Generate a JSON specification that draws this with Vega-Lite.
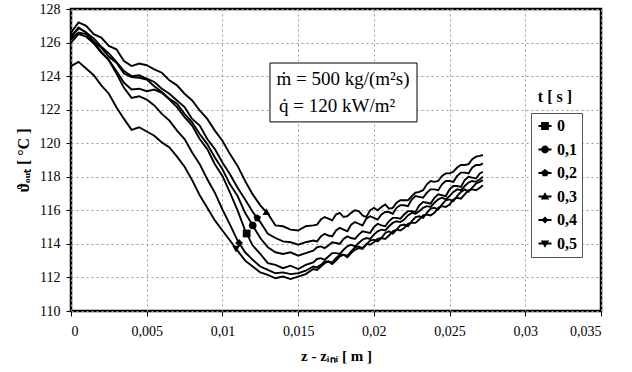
{
  "$schema": "https://vega.github.io/schema/vega-lite/v6.json",
  "width": 530,
  "height": 302,
  "autosize": {"type": "none"},
  "padding": {"left": 71, "top": 9, "right": 31, "bottom": 61},
  "background": "white",
  "config": {
    "view": {"stroke": "black", "strokeWidth": 2.5},
    "font": "Liberation Serif",
    "axis": {
      "labelFont": "Liberation Serif", "labelFontSize": 14, "labelColor": "black",
      "titleFont": "Liberation Serif", "titleFontSize": 15, "titleFontWeight": "bold", "titleColor": "black",
      "tickColor": "black", "tickSize": 5, "domain": false, "labelOverlap": false,
      "gridColor": "#9a9a9a", "gridDash": [2, 3], "gridWidth": 1
    }
  },
  "resolve": {"scale": {"shape": "independent"}, "legend": {"shape": "independent"}},
  "datasets": {
    "curves": [
      {"t":"0,3","x":0,"y":126.6},{"t":"0,3","x":0.0005,"y":127.2},{"t":"0,3","x":0.001,"y":127.0},{"t":"0,3","x":0.0015,"y":126.5},{"t":"0,3","x":0.002,"y":126.3},{"t":"0,3","x":0.0025,"y":125.8},{"t":"0,3","x":0.003,"y":125.6},{"t":"0,3","x":0.0035,"y":124.9},{"t":"0,3","x":0.004,"y":124.6},{"t":"0,3","x":0.0045,"y":124.75},{"t":"0,3","x":0.005,"y":124.65},{"t":"0,3","x":0.0055,"y":124.4},{"t":"0,3","x":0.006,"y":124.2},{"t":"0,3","x":0.0065,"y":123.75},{"t":"0,3","x":0.007,"y":123.45},{"t":"0,3","x":0.0075,"y":122.95},{"t":"0,3","x":0.008,"y":122.55},{"t":"0,3","x":0.0085,"y":121.95},{"t":"0,3","x":0.009,"y":121.45},{"t":"0,3","x":0.0095,"y":120.75},{"t":"0,3","x":0.01,"y":120.15},{"t":"0,3","x":0.0105,"y":119.35},{"t":"0,3","x":0.011,"y":118.65},{"t":"0,3","x":0.0115,"y":117.75},{"t":"0,3","x":0.012,"y":116.95},{"t":"0,3","x":0.0125,"y":116.3},{"t":"0,3","x":0.013,"y":115.8},{"t":"0,3","x":0.0135,"y":115.1},{"t":"0,3","x":0.014,"y":115.05},{"t":"0,3","x":0.0145,"y":114.85},{"t":"0,3","x":0.015,"y":114.8},{"t":"0,3","x":0.0155,"y":115.05},{"t":"0,3","x":0.016,"y":115.1},{"t":"0,3","x":0.0165,"y":115.45},{"t":"0,3","x":0.017,"y":115.5},{"t":"0,3","x":0.0175,"y":115.75},{"t":"0,3","x":0.018,"y":115.6},{"t":"0,3","x":0.0185,"y":115.85},{"t":"0,3","x":0.019,"y":115.95},{"t":"0,3","x":0.0195,"y":115.6},{"t":"0,3","x":0.02,"y":116.15},{"t":"0,3","x":0.0205,"y":116.2},{"t":"0,3","x":0.021,"y":116.1},{"t":"0,3","x":0.0215,"y":116.45},{"t":"0,3","x":0.022,"y":116.6},{"t":"0,3","x":0.0225,"y":116.85},{"t":"0,3","x":0.023,"y":117.1},{"t":"0,3","x":0.0235,"y":117.55},{"t":"0,3","x":0.024,"y":117.7},{"t":"0,3","x":0.0245,"y":118.05},{"t":"0,3","x":0.025,"y":118.2},{"t":"0,3","x":0.0255,"y":118.55},{"t":"0,3","x":0.026,"y":118.7},{"t":"0,3","x":0.0265,"y":119.05},{"t":"0,3","x":0.027,"y":119.25},{"t":"0,3","x":0.0272,"y":119.3},
      {"t":"0,3","x":0.01625,"y":115.15},{"t":"0,3","x":0.01675,"y":115.6},{"t":"0,3","x":0.01725,"y":115.4},{"t":"0,3","x":0.01775,"y":115.85},{"t":"0,3","x":0.01825,"y":115.65},{"t":"0,3","x":0.01875,"y":116.0},{"t":"0,3","x":0.01925,"y":115.7},{"t":"0,3","x":0.01975,"y":116.0},{"t":"0,3","x":0.02025,"y":116.0},{"t":"0,3","x":0.02075,"y":116.35},{"t":"0,3","x":0.02125,"y":116.15},{"t":"0,3","x":0.02175,"y":116.6},{"t":"0,3","x":0.02225,"y":116.6},{"t":"0,3","x":0.02275,"y":117.05},{"t":"0,3","x":0.02325,"y":117.2},{"t":"0,3","x":0.02375,"y":117.75},{"t":"0,3","x":0.02425,"y":117.75},{"t":"0,3","x":0.02475,"y":118.2},{"t":"0,3","x":0.02525,"y":118.3},{"t":"0,3","x":0.02575,"y":118.7},{"t":"0,3","x":0.02625,"y":118.75},{"t":"0,3","x":0.02675,"y":119.2},

      {"t":"0,2","x":0,"y":126.3},{"t":"0,2","x":0.0005,"y":126.85},{"t":"0,2","x":0.001,"y":126.6},{"t":"0,2","x":0.0015,"y":126.25},{"t":"0,2","x":0.002,"y":125.75},{"t":"0,2","x":0.0025,"y":125.35},{"t":"0,2","x":0.003,"y":124.85},{"t":"0,2","x":0.0035,"y":124.3},{"t":"0,2","x":0.004,"y":124.0},{"t":"0,2","x":0.0045,"y":124.05},{"t":"0,2","x":0.005,"y":123.85},{"t":"0,2","x":0.0055,"y":123.65},{"t":"0,2","x":0.006,"y":123.25},{"t":"0,2","x":0.0065,"y":122.95},{"t":"0,2","x":0.007,"y":122.55},{"t":"0,2","x":0.0075,"y":122.15},{"t":"0,2","x":0.008,"y":121.45},{"t":"0,2","x":0.0085,"y":121.05},{"t":"0,2","x":0.009,"y":120.25},{"t":"0,2","x":0.0095,"y":119.65},{"t":"0,2","x":0.01,"y":118.85},{"t":"0,2","x":0.0105,"y":118.15},{"t":"0,2","x":0.011,"y":117.35},{"t":"0,2","x":0.0115,"y":116.65},{"t":"0,2","x":0.012,"y":115.9},{"t":"0,2","x":0.0125,"y":115.3},{"t":"0,2","x":0.013,"y":114.6},{"t":"0,2","x":0.0135,"y":114.35},{"t":"0,2","x":0.014,"y":114.15},{"t":"0,2","x":0.0145,"y":114.1},{"t":"0,2","x":0.015,"y":113.95},{"t":"0,2","x":0.0155,"y":114.1},{"t":"0,2","x":0.016,"y":114.2},{"t":"0,2","x":0.0165,"y":114.45},{"t":"0,2","x":0.017,"y":114.5},{"t":"0,2","x":0.0175,"y":114.8},{"t":"0,2","x":0.018,"y":114.85},{"t":"0,2","x":0.0185,"y":115.15},{"t":"0,2","x":0.019,"y":115.2},{"t":"0,2","x":0.0195,"y":115.5},{"t":"0,2","x":0.02,"y":115.55},{"t":"0,2","x":0.0205,"y":115.75},{"t":"0,2","x":0.021,"y":115.9},{"t":"0,2","x":0.0215,"y":116.15},{"t":"0,2","x":0.022,"y":116.3},{"t":"0,2","x":0.0225,"y":116.65},{"t":"0,2","x":0.023,"y":116.8},{"t":"0,2","x":0.0235,"y":117.05},{"t":"0,2","x":0.024,"y":117.25},{"t":"0,2","x":0.0245,"y":117.55},{"t":"0,2","x":0.025,"y":117.75},{"t":"0,2","x":0.0255,"y":118.05},{"t":"0,2","x":0.026,"y":118.25},{"t":"0,2","x":0.0265,"y":118.55},{"t":"0,2","x":0.027,"y":118.7},{"t":"0,2","x":0.0272,"y":118.8},
      {"t":"0,2","x":0.01625,"y":114.15},{"t":"0,2","x":0.01675,"y":114.6},{"t":"0,2","x":0.01725,"y":114.45},{"t":"0,2","x":0.01775,"y":114.95},{"t":"0,2","x":0.01825,"y":114.75},{"t":"0,2","x":0.01875,"y":115.3},{"t":"0,2","x":0.01925,"y":115.1},{"t":"0,2","x":0.01975,"y":115.65},{"t":"0,2","x":0.02025,"y":115.45},{"t":"0,2","x":0.02075,"y":115.9},{"t":"0,2","x":0.02125,"y":115.8},{"t":"0,2","x":0.02175,"y":116.3},{"t":"0,2","x":0.02225,"y":116.25},{"t":"0,2","x":0.02275,"y":116.85},{"t":"0,2","x":0.02325,"y":116.75},{"t":"0,2","x":0.02375,"y":117.25},{"t":"0,2","x":0.02425,"y":117.2},{"t":"0,2","x":0.02475,"y":117.75},{"t":"0,2","x":0.02525,"y":117.7},{"t":"0,2","x":0.02575,"y":118.25},{"t":"0,2","x":0.02625,"y":118.2},{"t":"0,2","x":0.02675,"y":118.7},

      {"t":"0,1","x":0,"y":126.2},{"t":"0,1","x":0.0005,"y":126.6},{"t":"0,1","x":0.001,"y":126.5},{"t":"0,1","x":0.0015,"y":126.05},{"t":"0,1","x":0.002,"y":125.7},{"t":"0,1","x":0.0025,"y":125.15},{"t":"0,1","x":0.003,"y":124.8},{"t":"0,1","x":0.0035,"y":124.15},{"t":"0,1","x":0.004,"y":123.95},{"t":"0,1","x":0.0045,"y":123.9},{"t":"0,1","x":0.005,"y":123.8},{"t":"0,1","x":0.0055,"y":123.4},{"t":"0,1","x":0.006,"y":123.05},{"t":"0,1","x":0.0065,"y":122.65},{"t":"0,1","x":0.007,"y":122.35},{"t":"0,1","x":0.0075,"y":121.75},{"t":"0,1","x":0.008,"y":121.25},{"t":"0,1","x":0.0085,"y":120.55},{"t":"0,1","x":0.009,"y":119.95},{"t":"0,1","x":0.0095,"y":119.15},{"t":"0,1","x":0.01,"y":118.45},{"t":"0,1","x":0.0105,"y":117.55},{"t":"0,1","x":0.011,"y":116.85},{"t":"0,1","x":0.0115,"y":115.85},{"t":"0,1","x":0.012,"y":115.1},{"t":"0,1","x":0.0125,"y":114.35},{"t":"0,1","x":0.013,"y":113.8},{"t":"0,1","x":0.0135,"y":113.5},{"t":"0,1","x":0.014,"y":113.4},{"t":"0,1","x":0.0145,"y":113.5},{"t":"0,1","x":0.015,"y":113.3},{"t":"0,1","x":0.0155,"y":113.45},{"t":"0,1","x":0.016,"y":113.6},{"t":"0,1","x":0.0165,"y":113.85},{"t":"0,1","x":0.017,"y":113.9},{"t":"0,1","x":0.0175,"y":114.05},{"t":"0,1","x":0.018,"y":114.3},{"t":"0,1","x":0.0185,"y":114.35},{"t":"0,1","x":0.019,"y":114.55},{"t":"0,1","x":0.0195,"y":114.7},{"t":"0,1","x":0.02,"y":115.0},{"t":"0,1","x":0.0205,"y":115.1},{"t":"0,1","x":0.021,"y":115.35},{"t":"0,1","x":0.0215,"y":115.55},{"t":"0,1","x":0.022,"y":115.75},{"t":"0,1","x":0.0225,"y":115.95},{"t":"0,1","x":0.023,"y":116.3},{"t":"0,1","x":0.0235,"y":116.45},{"t":"0,1","x":0.024,"y":116.75},{"t":"0,1","x":0.0245,"y":116.9},{"t":"0,1","x":0.025,"y":117.25},{"t":"0,1","x":0.0255,"y":117.45},{"t":"0,1","x":0.026,"y":117.8},{"t":"0,1","x":0.0265,"y":117.95},{"t":"0,1","x":0.027,"y":118.2},{"t":"0,1","x":0.0272,"y":118.3},
      {"t":"0,1","x":0.01625,"y":113.8},{"t":"0,1","x":0.01675,"y":113.75},{"t":"0,1","x":0.01725,"y":114.1},{"t":"0,1","x":0.01775,"y":114.0},{"t":"0,1","x":0.01825,"y":114.45},{"t":"0,1","x":0.01875,"y":114.3},{"t":"0,1","x":0.01925,"y":114.75},{"t":"0,1","x":0.01975,"y":114.65},{"t":"0,1","x":0.02025,"y":115.2},{"t":"0,1","x":0.02075,"y":115.05},{"t":"0,1","x":0.02125,"y":115.55},{"t":"0,1","x":0.02175,"y":115.5},{"t":"0,1","x":0.02225,"y":115.95},{"t":"0,1","x":0.02275,"y":115.9},{"t":"0,1","x":0.02325,"y":116.5},{"t":"0,1","x":0.02375,"y":116.4},{"t":"0,1","x":0.02425,"y":116.95},{"t":"0,1","x":0.02475,"y":116.85},{"t":"0,1","x":0.02525,"y":117.45},{"t":"0,1","x":0.02575,"y":117.4},{"t":"0,1","x":0.02625,"y":118.0},{"t":"0,1","x":0.02675,"y":117.9},

      {"t":"0","x":0,"y":126.0},{"t":"0","x":0.0005,"y":126.5},{"t":"0","x":0.001,"y":126.35},{"t":"0","x":0.0015,"y":125.95},{"t":"0","x":0.002,"y":125.4},{"t":"0","x":0.0025,"y":124.95},{"t":"0","x":0.003,"y":124.3},{"t":"0","x":0.0035,"y":123.6},{"t":"0","x":0.004,"y":123.2},{"t":"0","x":0.0045,"y":123.25},{"t":"0","x":0.005,"y":123.1},{"t":"0","x":0.0055,"y":123.2},{"t":"0","x":0.006,"y":123.0},{"t":"0","x":0.0065,"y":122.6},{"t":"0","x":0.007,"y":122.15},{"t":"0","x":0.0075,"y":121.55},{"t":"0","x":0.008,"y":121.05},{"t":"0","x":0.0085,"y":120.25},{"t":"0","x":0.009,"y":119.65},{"t":"0","x":0.0095,"y":118.75},{"t":"0","x":0.01,"y":118.05},{"t":"0","x":0.0105,"y":117.05},{"t":"0","x":0.011,"y":116.0},{"t":"0","x":0.0115,"y":114.8},{"t":"0","x":0.012,"y":113.9},{"t":"0","x":0.0125,"y":113.4},{"t":"0","x":0.013,"y":112.85},{"t":"0","x":0.0135,"y":112.75},{"t":"0","x":0.014,"y":112.55},{"t":"0","x":0.0145,"y":112.7},{"t":"0","x":0.015,"y":112.5},{"t":"0","x":0.0155,"y":112.75},{"t":"0","x":0.016,"y":112.9},{"t":"0","x":0.0165,"y":113.15},{"t":"0","x":0.017,"y":113.25},{"t":"0","x":0.0175,"y":113.45},{"t":"0","x":0.018,"y":113.65},{"t":"0","x":0.0185,"y":113.95},{"t":"0","x":0.019,"y":114.05},{"t":"0","x":0.0195,"y":114.35},{"t":"0","x":0.02,"y":114.55},{"t":"0","x":0.0205,"y":114.85},{"t":"0","x":0.021,"y":115.05},{"t":"0","x":0.0215,"y":115.35},{"t":"0","x":0.022,"y":115.45},{"t":"0","x":0.0225,"y":115.85},{"t":"0","x":0.023,"y":115.95},{"t":"0","x":0.0235,"y":116.25},{"t":"0","x":0.024,"y":116.45},{"t":"0","x":0.0245,"y":116.75},{"t":"0","x":0.025,"y":116.85},{"t":"0","x":0.0255,"y":117.25},{"t":"0","x":0.026,"y":117.45},{"t":"0","x":0.0265,"y":117.75},{"t":"0","x":0.027,"y":117.85},{"t":"0","x":0.0272,"y":118.0},
      {"t":"0","x":0.01625,"y":113.1},{"t":"0","x":0.01675,"y":113.05},{"t":"0","x":0.01725,"y":113.45},{"t":"0","x":0.01775,"y":113.4},{"t":"0","x":0.01825,"y":113.85},{"t":"0","x":0.01875,"y":113.85},{"t":"0","x":0.01925,"y":114.25},{"t":"0","x":0.01975,"y":114.3},{"t":"0","x":0.02025,"y":114.75},{"t":"0","x":0.02075,"y":114.8},{"t":"0","x":0.02125,"y":115.25},{"t":"0","x":0.02175,"y":115.3},{"t":"0","x":0.02225,"y":115.7},{"t":"0","x":0.02275,"y":115.8},{"t":"0","x":0.02325,"y":116.15},{"t":"0","x":0.02375,"y":116.2},{"t":"0","x":0.02425,"y":116.65},{"t":"0","x":0.02475,"y":116.65},{"t":"0","x":0.02525,"y":117.1},{"t":"0","x":0.02575,"y":117.2},{"t":"0","x":0.02625,"y":117.65},{"t":"0","x":0.02675,"y":117.7},

      {"t":"0,4","x":0,"y":126.4},{"t":"0,4","x":0.0005,"y":126.9},{"t":"0,4","x":0.001,"y":126.6},{"t":"0,4","x":0.0015,"y":126.05},{"t":"0,4","x":0.002,"y":125.45},{"t":"0,4","x":0.0025,"y":124.95},{"t":"0,4","x":0.003,"y":124.15},{"t":"0,4","x":0.0035,"y":123.3},{"t":"0,4","x":0.004,"y":122.7},{"t":"0,4","x":0.0045,"y":122.8},{"t":"0,4","x":0.005,"y":122.6},{"t":"0,4","x":0.0055,"y":122.25},{"t":"0,4","x":0.006,"y":121.75},{"t":"0,4","x":0.0065,"y":121.35},{"t":"0,4","x":0.007,"y":120.75},{"t":"0,4","x":0.0075,"y":120.25},{"t":"0,4","x":0.008,"y":119.45},{"t":"0,4","x":0.0085,"y":118.75},{"t":"0,4","x":0.009,"y":117.85},{"t":"0,4","x":0.0095,"y":117.05},{"t":"0,4","x":0.01,"y":116.05},{"t":"0,4","x":0.0105,"y":115.15},{"t":"0,4","x":0.011,"y":114.2},{"t":"0,4","x":0.0115,"y":113.5},{"t":"0,4","x":0.012,"y":113.05},{"t":"0,4","x":0.0125,"y":112.65},{"t":"0,4","x":0.013,"y":112.45},{"t":"0,4","x":0.0135,"y":112.25},{"t":"0,4","x":0.014,"y":112.3},{"t":"0,4","x":0.0145,"y":112.2},{"t":"0,4","x":0.015,"y":112.25},{"t":"0,4","x":0.0155,"y":112.4},{"t":"0,4","x":0.016,"y":112.65},{"t":"0,4","x":0.0165,"y":112.75},{"t":"0,4","x":0.017,"y":112.95},{"t":"0,4","x":0.0175,"y":113.15},{"t":"0,4","x":0.018,"y":113.35},{"t":"0,4","x":0.0185,"y":113.55},{"t":"0,4","x":0.019,"y":113.85},{"t":"0,4","x":0.0195,"y":113.95},{"t":"0,4","x":0.02,"y":114.25},{"t":"0,4","x":0.0205,"y":114.35},{"t":"0,4","x":0.021,"y":114.75},{"t":"0,4","x":0.0215,"y":114.85},{"t":"0,4","x":0.022,"y":115.15},{"t":"0,4","x":0.0225,"y":115.35},{"t":"0,4","x":0.023,"y":115.65},{"t":"0,4","x":0.0235,"y":115.85},{"t":"0,4","x":0.024,"y":116.15},{"t":"0,4","x":0.0245,"y":116.35},{"t":"0,4","x":0.025,"y":116.65},{"t":"0,4","x":0.0255,"y":116.85},{"t":"0,4","x":0.026,"y":117.25},{"t":"0,4","x":0.0265,"y":117.35},{"t":"0,4","x":0.027,"y":117.7},{"t":"0,4","x":0.0272,"y":117.8},
      {"t":"0,4","x":0.01625,"y":112.6},{"t":"0,4","x":0.01675,"y":112.95},{"t":"0,4","x":0.01725,"y":112.9},{"t":"0,4","x":0.01775,"y":113.35},{"t":"0,4","x":0.01825,"y":113.3},{"t":"0,4","x":0.01875,"y":113.8},{"t":"0,4","x":0.01925,"y":113.75},{"t":"0,4","x":0.01975,"y":114.2},{"t":"0,4","x":0.02025,"y":114.15},{"t":"0,4","x":0.02075,"y":114.65},{"t":"0,4","x":0.02125,"y":114.6},{"t":"0,4","x":0.02175,"y":115.1},{"t":"0,4","x":0.02225,"y":115.05},{"t":"0,4","x":0.02275,"y":115.6},{"t":"0,4","x":0.02325,"y":115.55},{"t":"0,4","x":0.02375,"y":116.1},{"t":"0,4","x":0.02425,"y":116.05},{"t":"0,4","x":0.02475,"y":116.6},{"t":"0,4","x":0.02525,"y":116.55},{"t":"0,4","x":0.02575,"y":117.1},{"t":"0,4","x":0.02625,"y":117.1},{"t":"0,4","x":0.02675,"y":117.6},

      {"t":"0,5","x":0,"y":124.6},{"t":"0,5","x":0.0005,"y":124.85},{"t":"0,5","x":0.001,"y":124.45},{"t":"0,5","x":0.0015,"y":124.05},{"t":"0,5","x":0.002,"y":123.45},{"t":"0,5","x":0.0025,"y":122.95},{"t":"0,5","x":0.003,"y":122.15},{"t":"0,5","x":0.0035,"y":121.45},{"t":"0,5","x":0.004,"y":120.8},{"t":"0,5","x":0.0045,"y":120.95},{"t":"0,5","x":0.005,"y":120.7},{"t":"0,5","x":0.0055,"y":120.45},{"t":"0,5","x":0.006,"y":120.05},{"t":"0,5","x":0.0065,"y":119.75},{"t":"0,5","x":0.007,"y":119.2},{"t":"0,5","x":0.0075,"y":118.6},{"t":"0,5","x":0.008,"y":117.8},{"t":"0,5","x":0.0085,"y":116.9},{"t":"0,5","x":0.009,"y":116.15},{"t":"0,5","x":0.0095,"y":115.4},{"t":"0,5","x":0.01,"y":114.8},{"t":"0,5","x":0.0105,"y":114.2},{"t":"0,5","x":0.011,"y":113.6},{"t":"0,5","x":0.0115,"y":113.0},{"t":"0,5","x":0.012,"y":112.65},{"t":"0,5","x":0.0125,"y":112.3},{"t":"0,5","x":0.013,"y":112.15},{"t":"0,5","x":0.0135,"y":111.95},{"t":"0,5","x":0.014,"y":112.05},{"t":"0,5","x":0.0145,"y":111.9},{"t":"0,5","x":0.015,"y":112.05},{"t":"0,5","x":0.0155,"y":112.2},{"t":"0,5","x":0.016,"y":112.5},{"t":"0,5","x":0.0165,"y":112.65},{"t":"0,5","x":0.017,"y":112.95},{"t":"0,5","x":0.0175,"y":113.0},{"t":"0,5","x":0.018,"y":113.35},{"t":"0,5","x":0.0185,"y":113.45},{"t":"0,5","x":0.019,"y":113.75},{"t":"0,5","x":0.0195,"y":114.0},{"t":"0,5","x":0.02,"y":114.1},{"t":"0,5","x":0.0205,"y":114.35},{"t":"0,5","x":0.021,"y":114.5},{"t":"0,5","x":0.0215,"y":114.85},{"t":"0,5","x":0.022,"y":114.95},{"t":"0,5","x":0.0225,"y":115.25},{"t":"0,5","x":0.023,"y":115.45},{"t":"0,5","x":0.0235,"y":115.75},{"t":"0,5","x":0.024,"y":115.85},{"t":"0,5","x":0.0245,"y":116.25},{"t":"0,5","x":0.025,"y":116.35},{"t":"0,5","x":0.0255,"y":116.75},{"t":"0,5","x":0.026,"y":116.95},{"t":"0,5","x":0.0265,"y":117.25},{"t":"0,5","x":0.027,"y":117.35},{"t":"0,5","x":0.0272,"y":117.5},
      {"t":"0,5","x":0.01625,"y":112.45},{"t":"0,5","x":0.01675,"y":112.85},{"t":"0,5","x":0.01725,"y":112.8},{"t":"0,5","x":0.01775,"y":113.25},{"t":"0,5","x":0.01825,"y":113.2},{"t":"0,5","x":0.01875,"y":113.65},{"t":"0,5","x":0.01925,"y":113.7},{"t":"0,5","x":0.01975,"y":113.95},{"t":"0,5","x":0.02025,"y":114.3},{"t":"0,5","x":0.02075,"y":114.3},{"t":"0,5","x":0.02125,"y":114.75},{"t":"0,5","x":0.02175,"y":114.8},{"t":"0,5","x":0.02225,"y":115.2},{"t":"0,5","x":0.02275,"y":115.25},{"t":"0,5","x":0.02325,"y":115.7},{"t":"0,5","x":0.02375,"y":115.7},{"t":"0,5","x":0.02425,"y":116.15},{"t":"0,5","x":0.02475,"y":116.2},{"t":"0,5","x":0.02525,"y":116.65},{"t":"0,5","x":0.02575,"y":116.7},{"t":"0,5","x":0.02625,"y":117.2},{"t":"0,5","x":0.02675,"y":117.2}
    ],
    "markers": [
      {"t":"0","x":0.0116,"y":114.62},
      {"t":"0,1","x":0.012,"y":115.1},
      {"t":"0,2","x":0.0123,"y":115.54},
      {"t":"0,3","x":0.0129,"y":115.9},
      {"t":"0,4","x":0.0111,"y":114.06},
      {"t":"0,5","x":0.0109,"y":113.72}
    ],
    "box": [{"x":0.01314,"x2":0.02285,"y":124.78,"y2":121.27}],
    "notes": [
      {"x":0.01796,"y":123.83,"text":"ṁ = 500 kg/(m²s)"},
      {"x":0.01757,"y":122.22,"text":"q̇ = 120 kW/m²"}
    ],
    "legtitle": [{"x":0.03196,"y":122.76,"text":"t  [ s ]"}]
  },
  "encoding": {
    "x": {"field": "x", "type": "quantitative",
      "scale": {"domain": [0, 0.035], "nice": false, "zero": false},
      "axis": {"values": [0, 0.005, 0.01, 0.015, 0.02, 0.025, 0.03, 0.035],
        "labelExpr": "replace(format(datum.value, '~r'), '.', ',')",
        "title": "z - zᵢₙᵢ  [ m ]", "labelPadding": 8, "titlePadding": 10, "grid": true}},
    "y": {"field": "y", "type": "quantitative",
      "scale": {"domain": [110, 128], "nice": false, "zero": false},
      "axis": {"values": [110, 112, 114, 116, 118, 120, 122, 124, 126, 128], "tickCount": 10,
        "title": "ϑₒᵤₜ  [ °C ]", "labelPadding": 6, "titlePadding": 8, "titleFontSize": 16, "grid": true}}
  },
  "layer": [
    {
      "data": {"name": "curves"},
      "mark": {"type": "line", "color": "black", "strokeWidth": 1.9, "interpolate": "linear"},
      "encoding": {
        "detail": {"field": "t", "type": "nominal"}
      }
    },
    {
      "data": {"name": "markers"},
      "mark": {"type": "point", "filled": true, "color": "black", "opacity": 1, "size": 60},
      "encoding": {
        "shape": {"field": "t", "type": "nominal", "legend": null,
          "scale": {"domain": ["0", "0,1", "0,2", "0,3", "0,4", "0,5"],
            "range": ["M-1,-1H1V1H-1Z",
                      "M-1,0A1,1,0,1,1,1,0A1,1,0,1,1,-1,0Z",
                      "M0,-1L0.95,-0.31L0.59,0.81L-0.59,0.81L-0.95,-0.31Z",
                      "M0,-1L1,0.75L-1,0.75Z",
                      "M0,-1L1,0L0,1L-1,0Z",
                      "M-1,-0.75L1,-0.75L0,1Z"]}}
      }
    },
    {
      "data": {"name": "markers"},
      "transform": [{"filter": "false"}],
      "mark": {"type": "point", "filled": true, "color": "black", "opacity": 1},
      "encoding": {
        "shape": {"field": "t", "type": "nominal",
          "scale": {"domain": ["0", "0,1", "0,2", "0,3", "0,4", "0,5"],
            "range": ["M-0.55,-0.55H0.55V0.55H-0.55ZM-0.92,-0.13H0.92V0.13H-0.92Z",
                      "M-0.55,0A0.55,0.55,0,1,1,0.55,0A0.55,0.55,0,1,1,-0.55,0ZM-0.92,-0.13H0.92V0.13H-0.92Z",
                      "M0,-0.55L0.52,-0.17L0.33,0.45L-0.33,0.45L-0.52,-0.17ZM-0.92,-0.13H0.92V0.13H-0.92Z",
                      "M0,-0.6L0.6,0.42L-0.6,0.42ZM-0.92,-0.13H0.92V0.13H-0.92Z",
                      "M0,-0.5L0.5,0L0,0.5L-0.5,0ZM-0.92,-0.13H0.92V0.13H-0.92Z",
                      "M-0.6,-0.42L0.6,-0.42L0,0.6ZM-0.92,-0.13H0.92V0.13H-0.92Z"]},
          "legend": {
            "title": null, "orient": "none", "legendX": 460, "legendY": 104,
            "strokeColor": "#555", "fillColor": "white", "padding": 5, "rowPadding": 7.5,
            "labelFont": "Liberation Serif", "labelFontSize": 16, "labelFontWeight": "bold", "labelColor": "black",
            "symbolSize": 200, "symbolOffset": 1, "labelOffset": 4,
            "symbolFillColor": "black", "symbolStrokeWidth": 0, "symbolOpacity": 1
          }}
      }
    },
    {
      "data": {"name": "box"},
      "mark": {"type": "rect", "fill": "white", "stroke": "black", "strokeWidth": 1},
      "encoding": {
        "x2": {"field": "x2"},
        "y2": {"field": "y2"}
      }
    },
    {
      "data": {"name": "notes"},
      "mark": {"type": "text", "font": "Liberation Serif", "fontSize": 19, "color": "black", "align": "center", "baseline": "middle"},
      "encoding": {
        "text": {"field": "text"}
      }
    },
    {
      "data": {"name": "legtitle"},
      "mark": {"type": "text", "font": "Liberation Serif", "fontSize": 16, "fontWeight": "bold", "color": "black", "align": "center", "baseline": "middle"},
      "encoding": {
        "text": {"field": "text"}
      }
    }
  ]
}
